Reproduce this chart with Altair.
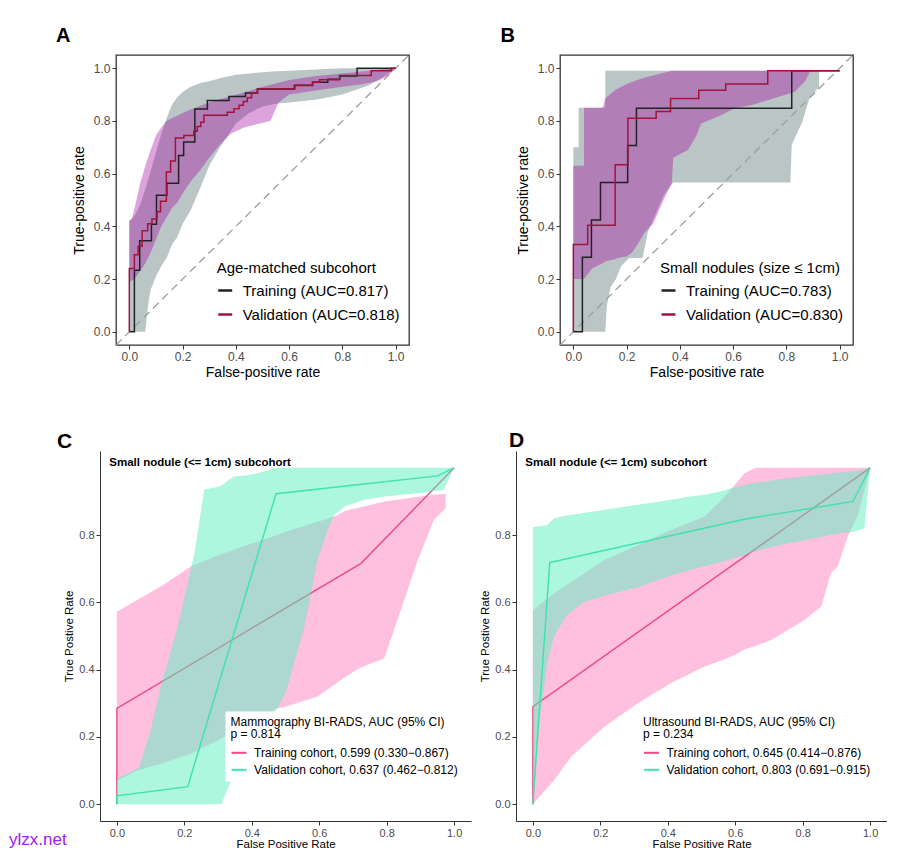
import altair as alt
import pandas as pd

FONT = "Liberation Sans"
TICKS = [0.0, 0.2, 0.4, 0.6, 0.8, 1.0]
TICKS_Y_CD = [0.0, 0.2, 0.4, 0.6, 0.8]
DIAG = [-0.05, 1.05]

# ---------------- Panel A ----------------
A_TITLE = "Age-matched subcohort"
A_NAMES = ["Training (AUC=0.817)", "Validation (AUC=0.818)"]
A_TR_FPR = [0, 0.019, 0.039, 0.083, 0.102, 0.141, 0.185, 0.204, 0.246, 0.293, 0.374, 0.436, 0.481, 0.621, 0.688, 0.745, 0.790, 0.855, 1.0]
A_TR_TPR = [0, 0.234, 0.345, 0.408, 0.518, 0.564, 0.669, 0.720, 0.845, 0.877, 0.893, 0.906, 0.921, 0.935, 0.947, 0.958, 0.970, 1.0, 1.0]
A_VA_FPR = [0, 0, 0.019, 0.033, 0.048, 0.069, 0.085, 0.104, 0.117, 0.139, 0.155, 0.173, 0.205, 0.242, 0.255, 0.268, 0.280, 0.368, 0.393, 0.412, 0.428, 0.443, 0.459, 0.481, 0.619, 0.688, 0.714, 0.789, 0.908, 0.984, 1.0]
A_VA_TPR = [0, 0.240, 0.292, 0.325, 0.383, 0.410, 0.428, 0.455, 0.495, 0.606, 0.648, 0.735, 0.745, 0.761, 0.779, 0.795, 0.821, 0.833, 0.846, 0.859, 0.874, 0.888, 0.905, 0.921, 0.934, 0.947, 0.956, 0.972, 0.990, 1.0, 1.0]
A_TR_CI_FPR = [0, 0.02, 0.04, 0.06, 0.07, 0.08, 0.10, 0.12, 0.14, 0.16, 0.18, 0.20, 0.23, 0.27, 0.30, 0.34, 0.37, 0.40, 0.45, 0.50, 0.55, 0.60, 0.70, 0.80, 0.90, 0.95, 1.0]
A_TR_CI_LO = [0, 0, 0, 0, 0.10, 0.16, 0.21, 0.25, 0.28, 0.33, 0.36, 0.41, 0.46, 0.555, 0.63, 0.70, 0.745, 0.79, 0.83, 0.855, 0.865, 0.87, 0.88, 0.90, 0.935, 0.965, 1.0]
A_TR_CI_HI = [0.42, 0.44, 0.48, 0.54, 0.575, 0.61, 0.68, 0.75, 0.81, 0.86, 0.89, 0.91, 0.93, 0.945, 0.95, 0.962, 0.968, 0.975, 0.98, 0.985, 0.988, 0.99, 0.995, 1.0, 1.0, 1.0, 1.0]
A_VA_CI_FPR = [0, 0.01, 0.02, 0.04, 0.06, 0.08, 0.10, 0.12, 0.14, 0.16, 0.18, 0.20, 0.23, 0.26, 0.30, 0.34, 0.38, 0.43, 0.49, 0.53, 0.56, 0.60, 0.70, 0.80, 0.88, 0.93, 0.97, 1.0]
A_VA_CI_LO = [0.19, 0.195, 0.20, 0.23, 0.26, 0.30, 0.35, 0.40, 0.435, 0.47, 0.49, 0.525, 0.57, 0.605, 0.66, 0.71, 0.75, 0.775, 0.79, 0.80, 0.87, 0.90, 0.915, 0.93, 0.94, 0.95, 0.97, 1.0]
A_VA_CI_HI = [0.42, 0.43, 0.47, 0.56, 0.63, 0.69, 0.745, 0.775, 0.80, 0.81, 0.82, 0.83, 0.843, 0.855, 0.87, 0.882, 0.894, 0.908, 0.927, 0.937, 0.945, 0.955, 0.97, 0.98, 0.988, 0.993, 0.997, 1.0]

# ---------------- Panel B ----------------
B_TITLE = "Small nodules (size \u2264 1cm)"
B_NAMES = ["Training (AUC=0.783)", "Validation (AUC=0.830)"]
B_TR_FPR = [0, 0.034, 0.068, 0.102, 0.204, 0.237, 0.820, 1.0]
B_TR_TPR = [0, 0.283, 0.424, 0.566, 0.707, 0.848, 0.99, 0.99]
B_VA_FPR = [0, 0, 0.054, 0.157, 0.205, 0.311, 0.365, 0.471, 0.572, 0.730, 1.0]
B_VA_TPR = [0, 0.331, 0.404, 0.634, 0.810, 0.836, 0.885, 0.916, 0.940, 0.99, 0.99]
B_TR_CI_FPR = [0, 0.02, 0.02, 0.12, 0.12, 0.126, 0.14, 0.16, 0.18, 0.21, 0.26, 0.28, 0.31, 0.34, 0.375, 0.815, 0.82, 0.86, 0.886, 0.915, 0.923]
B_TR_CI_LO = [0, 0, 0, 0, 0, 0.10, 0.17, 0.20, 0.25, 0.28, 0.28, 0.38, 0.45, 0.52, 0.566, 0.566, 0.71, 0.797, 0.885, 0.92, 0.925]
B_TR_CI_HI = [0.70, 0.70, 0.85, 0.85, 0.99, 0.99, 0.99, 0.99, 0.99, 0.99, 0.99, 0.99, 0.99, 0.99, 0.99, 0.99, 0.99, 0.99, 0.99, 0.99, 0.99]
B_VA_CI_FPR = [0, 0.04, 0.04, 0.07, 0.11, 0.12, 0.155, 0.18, 0.20, 0.22, 0.24, 0.27, 0.30, 0.33, 0.37, 0.375, 0.43, 0.46, 0.48, 0.55, 0.61, 0.67, 0.75, 0.83, 0.87, 0.89]
B_VA_CI_LO = [0.20, 0.20, 0.20, 0.24, 0.26, 0.267, 0.275, 0.283, 0.286, 0.30, 0.33, 0.38, 0.41, 0.48, 0.565, 0.66, 0.69, 0.74, 0.79, 0.82, 0.85, 0.86, 0.885, 0.91, 0.95, 0.99]
B_VA_CI_HI = [0.63, 0.63, 0.85, 0.85, 0.85, 0.885, 0.915, 0.93, 0.94, 0.948, 0.955, 0.965, 0.972, 0.98, 0.99, 0.99, 0.99, 0.99, 0.99, 0.99, 0.99, 0.99, 0.99, 0.99, 0.99, 0.99]

# ---------------- Panel C ----------------
C_TITLE = ["Mammography BI-RADS, AUC (95% CI)", "p = 0.814"]
C_NAMES = ["Training cohort, 0.599 (0.330\u22120.867)", "Validation cohort, 0.637 (0.462\u22120.812)"]
C_TR_FPR = [0, 0, 0.724, 1.0]
C_TR_TPR = [0, 0.285, 0.716, 1.0]
C_VA_FPR = [0, 0, 0.21, 0.472, 0.951, 1.0]
C_VA_TPR = [0, 0.025, 0.052, 0.923, 0.976, 1.0]
C_TR_CI_FPR = [0, 0.06, 0.13, 0.22, 0.30, 0.40, 0.476, 0.50, 0.595, 0.645, 0.68, 0.72, 0.793, 0.85, 0.892, 0.94, 0.975]
C_TR_CI_LO = [0.07, 0.10, 0.12, 0.15, 0.19, 0.245, 0.285, 0.29, 0.32, 0.355, 0.38, 0.405, 0.434, 0.60, 0.726, 0.845, 0.88]
C_TR_CI_HI = [0.572, 0.607, 0.647, 0.707, 0.74, 0.775, 0.80, 0.81, 0.84, 0.855, 0.873, 0.882, 0.90, 0.907, 0.914, 0.92, 0.923]
C_VA_CI_FPR = [0, 0.05, 0.066, 0.10, 0.13, 0.18, 0.23, 0.259, 0.30, 0.31, 0.33, 0.348, 0.387, 0.40, 0.437, 0.476, 0.50, 0.516, 0.556, 0.595, 0.625, 0.645, 0.675, 0.734, 0.793, 0.90, 0.97, 1.0]
C_VA_CI_LO = [0, 0, 0, 0, 0, 0, 0, 0, 0, 0, 0.05, 0.09, 0.151, 0.17, 0.23, 0.285, 0.33, 0.385, 0.527, 0.726, 0.815, 0.86, 0.885, 0.905, 0.915, 0.925, 0.935, 1.0]
C_VA_CI_HI = [0.076, 0.10, 0.11, 0.22, 0.349, 0.527, 0.746, 0.935, 0.944, 0.947, 0.962, 0.974, 0.978, 0.98, 0.99, 1.0, 1.0, 1.0, 1.0, 1.0, 1.0, 1.0, 1.0, 1.0, 1.0, 1.0, 1.0, 1.0]

# ---------------- Panel D ----------------
D_TITLE = ["Ultrasound BI-RADS, AUC (95% CI)", "p = 0.234"]
D_NAMES = ["Training cohort, 0.645 (0.414\u22120.876)", "Validation cohort, 0.803 (0.691\u22120.915)"]
D_TR_FPR = [0, 0, 1.0]
D_TR_TPR = [0, 0.29, 1.0]
D_VA_FPR = [0, 0.05, 0.627, 0.949, 1.0]
D_VA_TPR = [0, 0.718, 0.847, 0.90, 1.0]
D_TR_CI_FPR = [0, 0.063, 0.113, 0.212, 0.311, 0.41, 0.509, 0.568, 0.608, 0.627, 0.66, 0.707, 0.806, 0.855, 0.884, 0.904, 0.934, 0.963, 1.0]
D_TR_CI_LO = [0, 0.071, 0.141, 0.23, 0.30, 0.36, 0.409, 0.43, 0.449, 0.46, 0.47, 0.488, 0.548, 0.588, 0.687, 0.707, 0.797, 0.857, 1.0]
D_TR_CI_HI = [0.577, 0.627, 0.66, 0.726, 0.77, 0.815, 0.855, 0.913, 0.96, 0.984, 1.0, 1.0, 1.0, 1.0, 1.0, 1.0, 1.0, 1.0, 1.0]
D_VA_CI_FPR = [0, 0.005, 0.01, 0.02, 0.043, 0.063, 0.10, 0.15, 0.212, 0.311, 0.41, 0.46, 0.509, 0.56, 0.608, 0.657, 0.707, 0.806, 0.904, 0.95, 0.983, 1.0]
D_VA_CI_LO = [0, 0.05, 0.12, 0.25, 0.42, 0.50, 0.56, 0.60, 0.62, 0.645, 0.68, 0.695, 0.707, 0.72, 0.735, 0.75, 0.765, 0.785, 0.805, 0.81, 0.82, 1.0]
D_VA_CI_HI = [0.825, 0.825, 0.825, 0.826, 0.83, 0.85, 0.858, 0.866, 0.875, 0.89, 0.905, 0.914, 0.92, 0.93, 0.945, 0.955, 0.962, 0.975, 0.985, 0.99, 0.995, 1.0]

SUB_TITLE = "Small nodule (<= 1cm) subcohort"
WATERMARK = "ylzx.net"


def sc():
    return alt.Scale(domain=DIAG, nice=False, zero=False)


def band_layer(fpr, lo, hi, color, opacity, xaxis, yaxis):
    df = pd.DataFrame({"fpr": fpr, "lo": lo, "hi": hi})
    return alt.Chart(df).mark_area(color=color, opacity=opacity).encode(
        x=alt.X("fpr:Q", scale=sc(), axis=xaxis),
        y=alt.Y("lo:Q", scale=sc(), axis=yaxis),
        y2=alt.Y2("hi"),
    )


def line_df(fpr, tpr, name, key):
    return pd.DataFrame({"fpr": fpr, "tpr": tpr, key: name, "i": list(range(len(fpr)))})


def diag_layer(xaxis, yaxis):
    df = pd.DataFrame({"a": [DIAG[0]], "b": [DIAG[1]]})
    return alt.Chart(df).mark_rule(color="#9e9e9e", strokeDash=[8, 5], strokeWidth=1.3).encode(
        x=alt.X("a:Q", scale=sc(), axis=xaxis),
        y=alt.Y("a:Q", scale=sc(), axis=yaxis),
        x2=alt.X2("b"),
        y2=alt.Y2("b"),
    )


def text_layer(txt, x, y, size, weight="normal", color="black", opacity=1, baseline="middle"):
    df = pd.DataFrame({"t": [txt]})
    return alt.Chart(df).mark_text(
        font=FONT, fontSize=size, fontWeight=weight, color=color, opacity=opacity,
        align="left", baseline=baseline,
    ).encode(x=alt.value(x), y=alt.value(y), text="t:N")


def phantom(x, y):
    return text_layer(".", x, y, 1, opacity=0, baseline="top")


def axis_ab(title, pad):
    return alt.Axis(
        title=title, values=TICKS, format=".1f", grid=False, domain=False,
        labelFontSize=12, labelColor="#4d4d4d", labelPadding=2,
        tickColor="#333333", tickSize=4,
        titleFontSize=14, titleColor="black", titleFontWeight="normal", titlePadding=pad,
    )


def axis_cd(title, values, pad):
    return alt.Axis(
        title=title, values=values, format=".1f", grid=False, domain=True,
        domainColor="#333333",
        labelFontSize=11, labelColor="#4d4d4d", labelPadding=2,
        tickColor="#333333", tickSize=4,
        titleFontSize=11.5, titleColor="black", titleFontWeight="normal", titlePadding=pad,
    )


def panel_ab(key, letter, letter_x, title, names, tr_fpr, tr_tpr, va_fpr, va_tpr, trci, vaci, lx, ly, extra):
    xaxis = axis_ab("False-positive rate", 3)
    yaxis = axis_ab("True-positive rate", 7)
    legend = alt.Legend(
        orient="none", legendX=lx, legendY=ly, direction="vertical", title=title,
        titleFontSize=15, titleFontWeight="normal", titleColor="black",
        titlePadding=6, titleLimit=500,
        labelFontSize=15, labelColor="black", labelOffset=9, labelLimit=500,
        symbolType="stroke", symbolSize=196, symbolStrokeWidth=2.5, rowPadding=7, padding=0,
    )
    lines = pd.concat([line_df(tr_fpr, tr_tpr, names[0], key), line_df(va_fpr, va_tpr, names[1], key)])
    line_layer = alt.Chart(lines).mark_line(interpolate="step-after", strokeWidth=1.5).encode(
        x=alt.X("fpr:Q", scale=sc(), axis=xaxis),
        y=alt.Y("tpr:Q", scale=sc(), axis=yaxis),
        color=alt.Color(f"{key}:N", scale=alt.Scale(domain=names, range=["#222222", "#a3123a"]), legend=legend),
        order="i:Q",
    )
    layers = [
        band_layer(*trci, "#2f4f4f", 0.33, xaxis, yaxis),
        band_layer(*vaci, "#a000a0", 0.36, xaxis, yaxis),
        diag_layer(xaxis, yaxis),
        line_layer,
        text_layer(letter, letter_x, -19, 20, weight="bold"),
    ] + extra
    return alt.layer(*layers).properties(
        width=293, height=290, view=alt.ViewBackground(stroke="#333333", strokeWidth=1.3)
    )


PINK_LINE = "#ee4a80"
GREEN_LINE = "#3de3ab"


def panel_cd(key, letter, lxy, title, names, tr, va, trci, vaci, lx, ly, extra):
    xaxis = axis_cd("False Positive Rate", TICKS, 0)
    yaxis = axis_cd("True Postive Rate", TICKS_Y_CD, 4)
    cscale = alt.Scale(domain=names, range=[PINK_LINE, GREEN_LINE])
    legend = alt.Legend(
        orient="none", legendX=lx, legendY=ly, direction="vertical", title=title,
        titleFontSize=12, titleFontWeight="normal", titleColor="black",
        titleLineHeight=12.3, titlePadding=3.5, titleLimit=500,
        labelFontSize=12, labelColor="black", labelOffset=6.6, labelLimit=500,
        symbolType="stroke", symbolSize=225, symbolStrokeWidth=2, rowPadding=2,
        padding=5, fillColor="white",
    )

    def line_layer(fpr, tpr, name):
        return alt.Chart(line_df(fpr, tpr, name, key)).mark_line(strokeWidth=1.4).encode(
            x=alt.X("fpr:Q", scale=sc(), axis=xaxis),
            y=alt.Y("tpr:Q", scale=sc(), axis=yaxis),
            color=alt.Color(f"{key}:N", scale=cscale, legend=legend),
            order="i:Q",
        )

    layers = [
        band_layer(*trci, "#ff69b4", 0.42, xaxis, yaxis),
        line_layer(tr[0], tr[1], names[0]),
        band_layer(*vaci, "#5af0be", 0.5, xaxis, yaxis),
        line_layer(va[0], va[1], names[1]),
        text_layer(SUB_TITLE, 9.3, 12.3, 11.5, weight="bold"),
        text_layer(letter, lxy[0], lxy[1], 21, weight="bold"),
    ] + extra
    return alt.layer(*layers).properties(width=371, height=370)


A = panel_ab("sA", "A", -60, A_TITLE, A_NAMES, A_TR_FPR, A_TR_TPR, A_VA_FPR, A_VA_TPR,
             (A_TR_CI_FPR, A_TR_CI_LO, A_TR_CI_HI), (A_VA_CI_FPR, A_VA_CI_LO, A_VA_CI_HI),
             100.7, 206, [phantom(-107, -46), phantom(0, 336)])
B = panel_ab("sB", "B", -59.5, B_TITLE, B_NAMES, B_TR_FPR, B_TR_TPR, B_VA_FPR, B_VA_TPR,
             (B_TR_CI_FPR, B_TR_CI_LO, B_TR_CI_HI), (B_VA_CI_FPR, B_VA_CI_LO, B_VA_CI_HI),
             100, 206, [])
C = panel_cd("sC", "C", (-43, -9), C_TITLE, C_NAMES, (C_TR_FPR, C_TR_TPR), (C_VA_FPR, C_VA_TPR),
             (C_TR_CI_FPR, C_TR_CI_LO, C_TR_CI_HI), (C_VA_CI_FPR, C_VA_CI_LO, C_VA_CI_HI),
             125.5, 260.5,
             [text_layer(WATERMARK, -91, 389, 17, color="#a020f0"), phantom(0, -41)])
D = panel_cd("sD", "D", (-7, -10), D_TITLE, D_NAMES, (D_TR_FPR, D_TR_TPR), (D_VA_FPR, D_VA_TPR),
             (D_TR_CI_FPR, D_TR_CI_LO, D_TR_CI_HI), (D_VA_CI_FPR, D_VA_CI_LO, D_VA_CI_HI),
             122, 260.5, [])

# small empty cell that shifts the top row 16px right of the bottom row
spacer = alt.Chart(pd.DataFrame({"t": [""]})).mark_text(opacity=0, fontSize=1).encode(
    x=alt.value(0), y=alt.value(0), text="t:N"
).properties(width=16, height=1)

IND = dict(x="independent", y="independent", color="independent")
ab = alt.hconcat(A, B, spacing=151, bounds="flush").resolve_scale(**IND).resolve_legend(color="independent")
row1 = alt.hconcat(spacer, ab, spacing=0, bounds="flush").resolve_scale(**IND).resolve_legend(color="independent")
row2 = alt.hconcat(C, D, spacing=45, bounds="flush").resolve_scale(**IND).resolve_legend(color="independent")
chart = (
    alt.vconcat(row1, row2, spacing=17)
    .resolve_scale(**IND)
    .resolve_legend(color="independent")
    .properties(padding=0)
    .configure(font=FONT)
    .configure_view(strokeWidth=0)
)
chart.save("out.html", embed_options={"renderer": "svg", "actions": False})
